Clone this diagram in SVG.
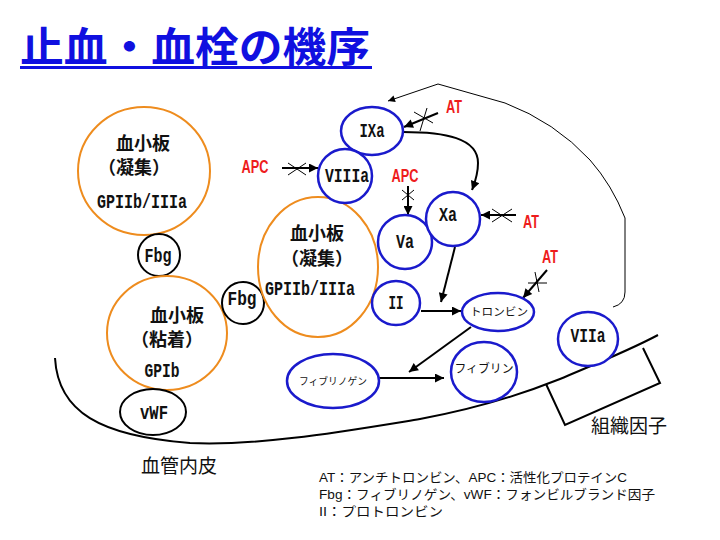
<svg xmlns="http://www.w3.org/2000/svg" width="720" height="540" viewBox="0 0 720 540">
<defs>
<marker id="ah" viewBox="0 0 10 10" refX="10" refY="5" markerWidth="11" markerHeight="9" orient="auto" markerUnits="userSpaceOnUse"><path d="M0,0 L10,5 L0,10 z" fill="#000"/></marker>
<marker id="ahs" viewBox="0 0 10 10" refX="10" refY="5" markerWidth="10" markerHeight="7" orient="auto" markerUnits="userSpaceOnUse"><path d="M0,0 L10,5 L0,10 z" fill="#000"/></marker>
<style>
.plt{fill:#fff;stroke:#ee8c1e;stroke-width:2}
.blk{fill:#fff;stroke:#000;stroke-width:2}
.fac{fill:#fff;stroke:#1a1acc;stroke-width:2.5}
.jp{font-family:"Noto Sans CJK JP","Noto Sans CJK SC",sans-serif;fill:#111;text-anchor:middle}
.jb{font-weight:bold;font-size:18px}
.lat{font-family:"Liberation Mono","DejaVu Sans Mono",monospace;font-weight:bold;font-size:20px;fill:#111;text-anchor:middle}
.red{font-family:"Liberation Sans Narrow","Liberation Sans",sans-serif;font-weight:bold;font-size:18px;fill:#ee1c1c;text-anchor:middle}
.sm{font-family:"Noto Sans CJK JP",sans-serif;fill:#111;text-anchor:middle}
.ln{fill:none;stroke:#000;stroke-width:2}
.th{fill:none;stroke:#000;stroke-width:1}
.leg{font-family:"Liberation Sans","Noto Sans CJK JP","Noto Sans CJK SC",sans-serif;font-size:13px;fill:#111}
</style>
</defs>
<rect width="720" height="540" fill="#fff"/>

<g id="title">
<text x="20" y="62" font-family="Noto Sans CJK JP,Noto Sans CJK SC,sans-serif" font-weight="bold" font-size="41" fill="#1010e0" textLength="350" lengthAdjust="spacingAndGlyphs">止血・血栓の機序</text>
<rect x="20" y="66" width="352" height="3" fill="#1010e0"/>
</g>

<g id="wall">
<path class="ln" d="M55,358 C58,412 100,436 190,443 C260,446 340,432 420,419 C480,408 525,393 560,379 C600,362 630,350 658,335"/>
</g>
<g id="tissue-factor">
<polyline class="ln" points="546,384 565,425 660,383 643,348"/>
<text class="jp" x="629" y="433" font-size="19">組織因子</text>
</g>
<g id="endothelium-label">
<text class="jp" x="179" y="473" font-size="19">血管内皮</text>
</g>

<g id="connectors">
<line class="ln" x1="282" y1="168" x2="318" y2="168" marker-end="url(#ah)"/>
<line class="th" x1="288" y1="163" x2="306" y2="175"/>
<line class="th" x1="288" y1="175" x2="306" y2="163"/>
<line class="ln" x1="408" y1="186" x2="408" y2="215" marker-end="url(#ah)"/>
<line class="th" x1="402" y1="190" x2="414" y2="200"/>
<line class="th" x1="402" y1="200" x2="414" y2="190"/>
<line class="ln" x1="438" y1="113" x2="404" y2="127" marker-end="url(#ah)"/>
<line class="th" x1="414" y1="112" x2="433" y2="123"/>
<line class="th" x1="427" y1="108" x2="420" y2="131"/>
<path class="ln" d="M403,132 C445,132 478,138 478,163 C478,175 475,182 472,190" marker-end="url(#ah)"/>
<line class="ln" x1="516" y1="215" x2="481" y2="215" marker-end="url(#ah)"/>
<line class="th" x1="492" y1="209" x2="512" y2="222"/>
<line class="th" x1="492" y1="222" x2="512" y2="209"/>
<line class="ln" x1="547" y1="270" x2="523" y2="298" marker-end="url(#ah)"/>
<line class="th" x1="528" y1="283" x2="547" y2="283"/>
<line class="th" x1="535" y1="272" x2="539" y2="292"/>
<line class="ln" x1="455" y1="247" x2="441" y2="302" marker-end="url(#ah)"/>
<line class="ln" x1="421" y1="311" x2="461" y2="311" marker-end="url(#ah)"/>
<line class="ln" x1="471" y1="327" x2="409" y2="372" marker-end="url(#ah)"/>
<line class="ln" x1="379" y1="378" x2="444" y2="378" marker-end="url(#ah)"/>
<path class="th" d="M613,307 Q625,304 625,292 L625,218 Q612,185 590,160 Q555,122 505,103 L438,84 L388,101" marker-end="url(#ahs)"/>
</g>

<g id="platelet-top">
<ellipse class="plt" cx="144" cy="171" rx="66" ry="64"/>
<text class="jp jb" x="143" y="150">血小板</text>
<text class="jp jb" x="134" y="174">（凝集）</text>
<text class="lat" x="142" y="208" textLength="90" lengthAdjust="spacingAndGlyphs">GPIIb/IIIa</text>
</g>
<g id="fbg-1">
<circle class="blk" cx="159" cy="255" r="21"/>
<text class="lat" x="158" y="262" textLength="27" lengthAdjust="spacingAndGlyphs">Fbg</text>
</g>
<g id="platelet-adhesion">
<ellipse class="plt" cx="167" cy="333" rx="60" ry="57"/>
<text class="jp jb" x="177" y="322">血小板</text>
<text class="jp jb" x="167" y="346">（粘着）</text>
<text class="lat" x="162" y="377" textLength="35" lengthAdjust="spacingAndGlyphs">GPIb</text>
</g>
<g id="vwf">
<ellipse class="blk" cx="153" cy="412" rx="33" ry="23"/>
<text class="lat" x="154" y="419" textLength="28" lengthAdjust="spacingAndGlyphs">vWF</text>
</g>
<g id="fbg-2">
<circle class="blk" cx="243" cy="303" r="21"/>
<text class="lat" x="242" y="305" textLength="29" lengthAdjust="spacingAndGlyphs">Fbg</text>
</g>
<g id="platelet-mid">
<ellipse class="plt" cx="318" cy="267" rx="60" ry="70"/>
<text class="jp jb" x="317" y="240">血小板</text>
<text class="jp jb" x="317" y="265">（凝集）</text>
<text class="lat" x="310" y="295" textLength="90" lengthAdjust="spacingAndGlyphs">GPIIb/IIIa</text>
</g>

<g id="IXa">
<ellipse class="fac" cx="372" cy="131" rx="31" ry="24"/>
<text class="lat" x="372" y="137" textLength="25" lengthAdjust="spacingAndGlyphs">IXa</text>
</g>
<g id="VIIIa">
<circle class="fac" cx="345" cy="176" r="27"/>
<text class="lat" x="347" y="182" textLength="44" lengthAdjust="spacingAndGlyphs">VIIIa</text>
</g>
<g id="Va">
<circle class="fac" cx="405" cy="242" r="27"/>
<text class="lat" x="405" y="248" textLength="18" lengthAdjust="spacingAndGlyphs">Va</text>
</g>
<g id="Xa">
<circle class="fac" cx="453" cy="219" r="27"/>
<text class="lat" x="448" y="221" textLength="18" lengthAdjust="spacingAndGlyphs">Xa</text>
</g>
<g id="II">
<ellipse class="fac" cx="396" cy="303" rx="24" ry="22"/>
<text class="lat" x="396" y="309" textLength="15" lengthAdjust="spacingAndGlyphs">II</text>
</g>
<g id="thrombin">
<ellipse class="fac" cx="498" cy="312" rx="36" ry="19"/>
<text class="sm" x="499" y="316" font-size="11" textLength="58" lengthAdjust="spacingAndGlyphs">トロンビン</text>
</g>
<g id="VIIa">
<ellipse class="fac" cx="588" cy="339" rx="30" ry="27"/>
<text class="lat" x="588" y="342" textLength="35" lengthAdjust="spacingAndGlyphs">VIIa</text>
</g>
<g id="fibrin">
<ellipse class="fac" cx="484" cy="372" rx="33" ry="30"/>
<text class="sm" x="484" y="373" font-size="12" textLength="59" lengthAdjust="spacingAndGlyphs">フィブリン</text>
</g>
<g id="fibrinogen">
<ellipse class="fac" cx="333" cy="381" rx="46" ry="27"/>
<text class="sm" x="333" y="385" font-size="10" textLength="68" lengthAdjust="spacingAndGlyphs">フィブリノゲン</text>
</g>

<g id="inhibitors">
<text class="red" x="255" y="173" textLength="27" lengthAdjust="spacingAndGlyphs">APC</text>
<text class="red" x="405" y="182" textLength="27" lengthAdjust="spacingAndGlyphs">APC</text>
<text class="red" x="454" y="113" textLength="16" lengthAdjust="spacingAndGlyphs">AT</text>
<text class="red" x="531" y="228" textLength="16" lengthAdjust="spacingAndGlyphs">AT</text>
<text class="red" x="550" y="263" textLength="16" lengthAdjust="spacingAndGlyphs">AT</text>
</g>

<g id="legend">
<text class="leg" x="319" y="482" textLength="308" lengthAdjust="spacingAndGlyphs">AT：アンチトロンビン、APC：活性化プロテインC</text>
<text class="leg" x="319" y="499" textLength="336" lengthAdjust="spacingAndGlyphs">Fbg：フィブリノゲン、vWF：フォンビルブランド因子</text>
<text class="leg" x="319" y="516" textLength="124" lengthAdjust="spacingAndGlyphs">II：プロトロンビン</text>
</g>
</svg>
